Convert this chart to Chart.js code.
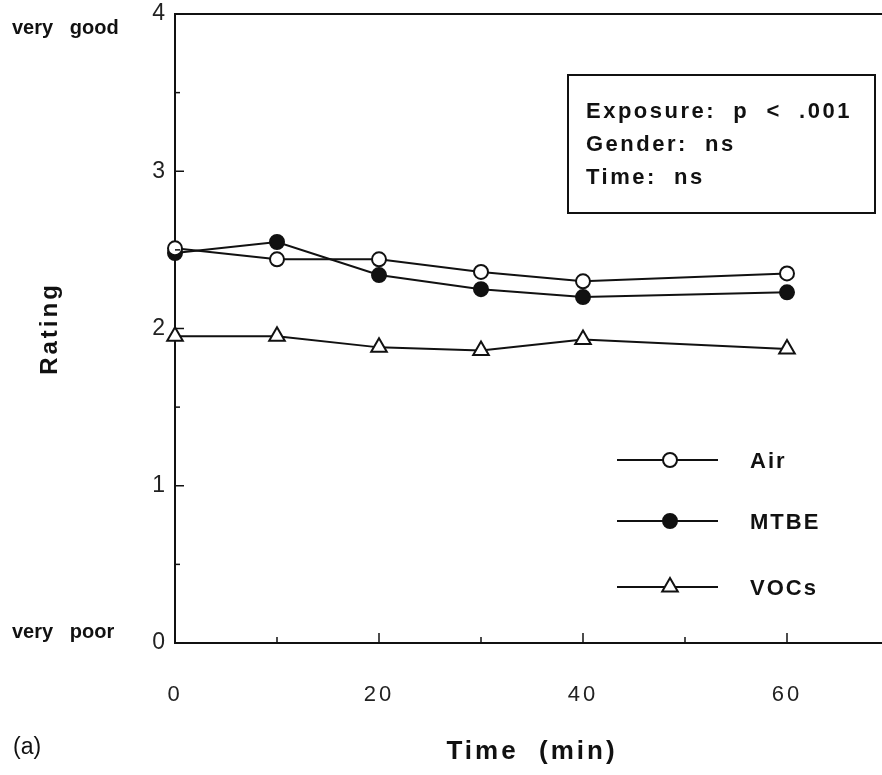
<!DOCTYPE html>
<html>
<head>
<meta charset="utf-8">
<script src="https://cdn.jsdelivr.net/npm/chart.js@4.4.1/dist/chart.umd.min.js"></script>
<style>
html, body { margin: 0; padding: 0; background: #fff; overflow: hidden; }
#wrap { width: 900px; height: 775px; }
</style>
</head>
<body>
<div id="wrap"><canvas id="ratingChart" width="900" height="775"></canvas></div>
<script>
// values
const times = [0, 10, 20, 30, 40, 60];
const airRating = [2.51, 2.44, 2.44, 2.36, 2.30, 2.35];
const mtbeRating = [2.48, 2.55, 2.34, 2.25, 2.20, 2.23];
const vocRating = [1.95, 1.95, 1.88, 1.86, 1.93, 1.87];
const seriesNames = ["Air", "MTBE", "VOCs"];
const xTickLabels = [0, 20, 40, 60];
const yTickLabels = [0, 1, 2, 3, 4];
const anchorLabels = { 4: "very   good", 0: "very   poor" };
const statsLines = ["Exposure:  p  <  .001", "Gender:  ns", "Time:  ns"];

const ink = "#111";
const fontFamily = "'Liberation Sans', Arial, sans-serif";

function toPoints(values) {
    return times.map((t, i) => ({ x: t, y: values[i] }));
}

function makeSeries(name, values, fill, style, radius) {
    return {
        label: name,
        data: toPoints(values),
        borderColor: ink,
        borderWidth: 2,
        tension: 0,
        pointStyle: style,
        pointRadius: radius,
        pointBackgroundColor: fill,
        pointBorderColor: ink,
        pointBorderWidth: 2,
        clip: false
    };
}

// the scanned figure uses loosely spaced lettering
function spacing(chart) {
    chart.ctx.letterSpacing = "3px";
}

const extrasPlugin = {
    id: "extras",
    beforeUpdate: spacing,
    beforeDraw: spacing,
    afterDraw(chart) {
        const { ctx, chartArea: a, scales: { x, y } } = chart;
        ctx.save();
        ctx.strokeStyle = ink;
        ctx.fillStyle = ink;
        ctx.lineWidth = 2;

        // top frame line
        ctx.beginPath();
        ctx.moveTo(a.left, a.top);
        ctx.lineTo(a.right, a.top);
        ctx.stroke();

        // inward tick marks
        ctx.lineWidth = 1.5;
        x.ticks.forEach(t => {
            const px = x.getPixelForValue(t.value);
            const len = xTickLabels.includes(t.value) ? 10 : 6;
            ctx.beginPath();
            ctx.moveTo(px, a.bottom);
            ctx.lineTo(px, a.bottom - len);
            ctx.stroke();
        });
        y.ticks.forEach(t => {
            const py = y.getPixelForValue(t.value);
            const len = yTickLabels.includes(t.value) ? 9 : 5;
            ctx.beginPath();
            ctx.moveTo(a.left, py);
            ctx.lineTo(a.left + len, py);
            ctx.stroke();
        });

        // very good / very poor
        ctx.letterSpacing = "0px";
        ctx.font = "bold 20px " + fontFamily;
        ctx.textAlign = "left";
        ctx.textBaseline = "middle";
        ctx.fillText(anchorLabels[4], 12, y.getPixelForValue(4) + 14);
        ctx.fillText(anchorLabels[0], 12, y.getPixelForValue(0) - 11);

        // panel tag
        ctx.font = "23px " + fontFamily;
        ctx.fillText("(a)", 13, 748);

        // stats box
        ctx.lineWidth = 2;
        ctx.strokeRect(568, 75, 307, 138);
        ctx.letterSpacing = "2.5px";
        ctx.font = "bold 22px " + fontFamily;
        statsLines.forEach((line, i) => {
            ctx.fillText(line, 586, 112 + i * 33);
        });

        // legend: line with marker in the middle
        const rows = [460, 521, 587];
        chart.data.datasets.forEach((ds, i) => {
            const ly = rows[i];
            ctx.lineWidth = 2;
            ctx.beginPath();
            ctx.moveTo(617, ly);
            ctx.lineTo(718, ly);
            ctx.stroke();
            ctx.fillStyle = ds.pointBackgroundColor;
            ctx.strokeStyle = ink;
            Chart.helpers.drawPoint(ctx, {
                pointStyle: ds.pointStyle,
                radius: ds.pointRadius,
                rotation: 0,
                borderWidth: 2
            }, 670, ly);
            ctx.fillStyle = ink;
            ctx.letterSpacing = "2px";
            ctx.font = "bold 22px " + fontFamily;
            ctx.fillText(ds.label, 750, ly + 2);
        });
        ctx.restore();
    }
};

const ctx = document.getElementById("ratingChart").getContext("2d");
const ratingChart = new Chart(ctx, {
    type: "line",
    data: {
        datasets: [
            makeSeries(seriesNames[0], airRating, "#fff", "circle", 7),
            makeSeries(seriesNames[1], mtbeRating, ink, "circle", 7),
            makeSeries(seriesNames[2], vocRating, "#fff", "triangle", 9)
        ]
    },
    options: {
        responsive: false,
        animation: false,
        layout: { padding: { top: 14, right: 11, left: 0, bottom: 0 } },
        plugins: {
            legend: { display: false },
            tooltip: { enabled: false }
        },
        scales: {
            x: {
                type: "linear",
                min: 0,
                max: 70,
                grid: { display: false, drawTicks: true, tickLength: 36 },
                border: { display: true, color: ink, width: 2 },
                ticks: {
                    stepSize: 10,
                    autoSkip: false,
                    maxRotation: 0,
                    padding: 3,
                    color: "#222",
                    font: { family: fontFamily, size: 22 },
                    callback: v => xTickLabels.includes(v) ? v : ""
                },
                title: {
                    display: true,
                    text: "Time  (min)",
                    color: ink,
                    font: { family: fontFamily, size: 26, weight: "bold" },
                    padding: { top: 0, bottom: 8 }
                },
                afterFit: s => { s.height = 132; }
            },
            y: {
                min: 0,
                max: 4,
                grid: { display: false, drawTicks: false },
                border: { display: true, color: ink, width: 2 },
                ticks: {
                    stepSize: 0.5,
                    autoSkip: false,
                    padding: 7,
                    color: "#222",
                    font: { family: fontFamily, size: 23 },
                    callback: v => yTickLabels.includes(v) ? v : ""
                },
                title: {
                    display: true,
                    text: "Rating",
                    color: ink,
                    font: { family: fontFamily, size: 24, weight: "bold" },
                    padding: { top: 36, bottom: 0 }
                },
                afterFit: s => {
                    s.width = 175;
                    s.paddingTop = 0;
                    s.paddingBottom = 0;
                }
            }
        }
    },
    plugins: [extrasPlugin]
});
</script>
</body>
</html>
